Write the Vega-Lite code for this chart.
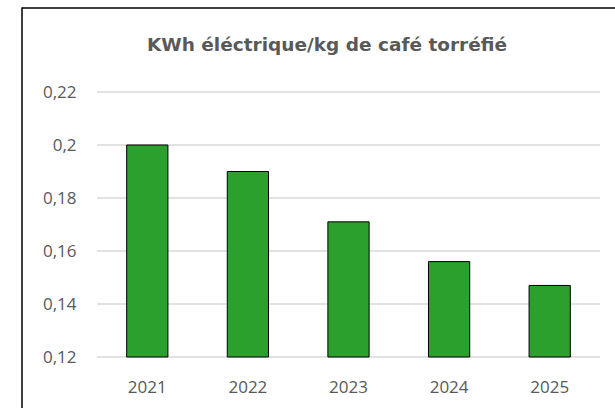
{
  "$schema": "https://vega.github.io/schema/vega-lite/v6.json",
  "width": 600,
  "height": 405,
  "autosize": "none",
  "padding": {"left": 22, "top": 8, "right": 0, "bottom": 0},
  "background": "white",
  "config": {
    "view": {"stroke": "#000000", "strokeWidth": 1.5},
    "font": "Open Sans"
  },
  "title": {
    "text": "KWh éléctrique/kg de café torréfié",
    "anchor": "middle",
    "frame": "group",
    "orient": "top",
    "offset": -61,
    "baseline": "alphabetic",
    "font": "DejaVu Sans",
    "fontWeight": "bold",
    "fontSize": 18.5,
    "color": "#595959",
    "dx": 5
  },
  "datasets": {
    "bars": [
      {"year": "2021", "value": 0.2},
      {"year": "2022", "value": 0.19},
      {"year": "2023", "value": 0.171},
      {"year": "2024", "value": 0.156},
      {"year": "2025", "value": 0.147}
    ],
    "grid": [
      {"v": 0.12}, {"v": 0.14}, {"v": 0.16}, {"v": 0.18}, {"v": 0.2}, {"v": 0.22}
    ]
  },
  "layer": [
    {
      "data": {"name": "grid"},
      "mark": {"type": "rule", "color": "#d9d9d9", "strokeWidth": 1.5},
      "encoding": {
        "x": {"datum": 0, "type": "quantitative", "scale": {"domain": [0, 1], "range": [75, 578]}, "axis": null},
        "x2": {"datum": 1},
        "y": {
          "field": "v", "type": "quantitative",
          "scale": {"domain": [0.12, 0.22], "range": [349, 84], "zero": false, "nice": false},
          "axis": {
            "title": null, "orient": "left", "offset": -75, "domain": false, "ticks": false, "tickSize": 0, "grid": false,
            "values": [0.12, 0.14, 0.16, 0.18, 0.2, 0.22],
            "labelExpr": "replace(format(datum.value, '.2~f'), '.', ',')",
            "labelPadding": 21, "labelFont": "Open Sans", "labelFontSize": 17, "labelColor": "#595959"
          }
        }
      }
    },
    {
      "data": {"name": "bars"},
      "mark": {"type": "bar", "fill": "#2ca02c", "stroke": "#000000", "strokeWidth": 1},
      "encoding": {
        "x": {
          "field": "year", "type": "nominal",
          "scale": {"range": [75, 578], "paddingInner": 0.59, "paddingOuter": 0.295},
          "axis": {
            "title": null, "orient": "bottom", "offset": -56, "domain": false, "ticks": false, "tickSize": 0, "grid": false,
            "labelAngle": 0, "labelBaseline": "alphabetic", "labelPadding": 35,
            "labelFont": "Open Sans", "labelFontSize": 17, "labelColor": "#595959"
          }
        },
        "y": {"field": "value", "type": "quantitative", "axis": {"title": null, "orient": "left", "offset": -75, "domain": false, "ticks": false, "tickSize": 0, "grid": false,
            "values": [0.12, 0.14, 0.16, 0.18, 0.2, 0.22],
            "labelExpr": "replace(format(datum.value, '.2~f'), '.', ',')",
            "labelPadding": 21, "labelFont": "Open Sans", "labelFontSize": 17, "labelColor": "#595959"}},
        "y2": {"datum": 0.12}
      }
    }
  ],
  "resolve": {"scale": {"x": "independent"}}
}
